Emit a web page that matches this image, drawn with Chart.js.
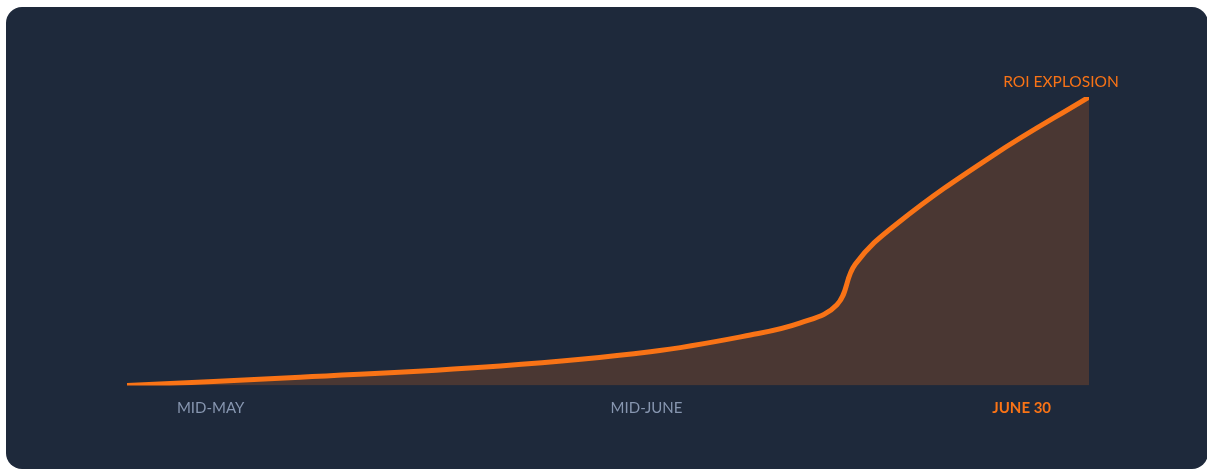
<!DOCTYPE html>
<html>
<head>
<meta charset="utf-8">
<script src="https://cdn.jsdelivr.net/npm/chart.js@4"></script>
<style>
    html, body { margin: 0; padding: 0; background: #ffffff; }
    /* Khung card tối */
    .card {
        position: absolute;
        left: 6px; top: 7px;
        width: 1202px; height: 462px;
        background: #1e293b;
        border-radius: 16px;
        overflow: hidden;
    }
    .card canvas { display: block; }
</style>
</head>
<body>
<div class="card">
    <canvas id="roiChart" width="1202" height="462"></canvas>
</div>
<script>
// --- DỮ LIỆU ---
const X_VALUES = [0, 18, 38.8, 54.4, 64.8, 70, 73.8, 75.7, 80, 90, 100];
const Y_VALUES = [0, 2.9, 6.8, 11.7, 17.5, 21.7, 28, 42, 56, 79.7, 100];
const TICK_POS = [8.7, 54, 93];
const TICK_LABELS = ['MID-MAY', 'MID-JUNE', 'JUNE 30'];
const PEAK_LABEL = 'ROI EXPLOSION';

const ORANGE = '#f97316';
const MUTED = '#8796b0';

// Nhãn "ROI EXPLOSION" gắn vào điểm cuối
const peakLabel = {
    id: 'peakLabel',
    afterDatasetsDraw(chart) {
        const meta = chart.getDatasetMeta(0);
        const last = meta.data[meta.data.length - 1];
        if (!last) return;
        const ctx = chart.ctx;
        ctx.save();
        ctx.fillStyle = ORANGE;
        ctx.font = "15.5px Lato, sans-serif";
        ctx.textAlign = 'center';
        ctx.textBaseline = 'alphabetic';
        ctx.fillText(PEAK_LABEL, last.x - 28, last.y - 10);
        ctx.restore();
    }
};

const ctx = document.getElementById('roiChart').getContext('2d');
new Chart(ctx, {
    type: 'line',
    data: {
        datasets: [{
            data: X_VALUES.map((x, i) => ({ x: x, y: Y_VALUES[i] })),
            borderColor: ORANGE,
            borderWidth: 5,
            borderCapStyle: 'round',
            backgroundColor: 'rgba(249, 115, 22, 0.2)',
            fill: 'origin',
            tension: 0.4,
            pointRadius: 0
        }]
    },
    options: {
        responsive: false,
        animation: false,
        layout: { padding: { left: 121, right: 119, top: 90, bottom: 0 } },
        plugins: {
            legend: { display: false },
            tooltip: { enabled: false }
        },
        scales: {
            x: {
                type: 'linear',
                min: 0, max: 100,
                grid: { display: false, drawTicks: false },
                border: { display: false },
                afterFit(scale) { scale.height = 83.5; },
                afterBuildTicks(scale) {
                    scale.ticks = TICK_POS.map(v => ({ value: v }));
                },
                ticks: {
                    autoSkip: false,
                    maxRotation: 0,
                    padding: 14,
                    callback: (value, index) => TICK_LABELS[index],
                    color: (c) => c.index === 2 ? ORANGE : MUTED,
                    font: (c) => ({ family: 'Lato, sans-serif', size: 15, weight: c.index === 2 ? 'bold' : 'normal' })
                }
            },
            y: {
                display: false,
                min: 0, max: 100
            }
        }
    },
    plugins: [peakLabel]
});
</script>
</body>
</html>
